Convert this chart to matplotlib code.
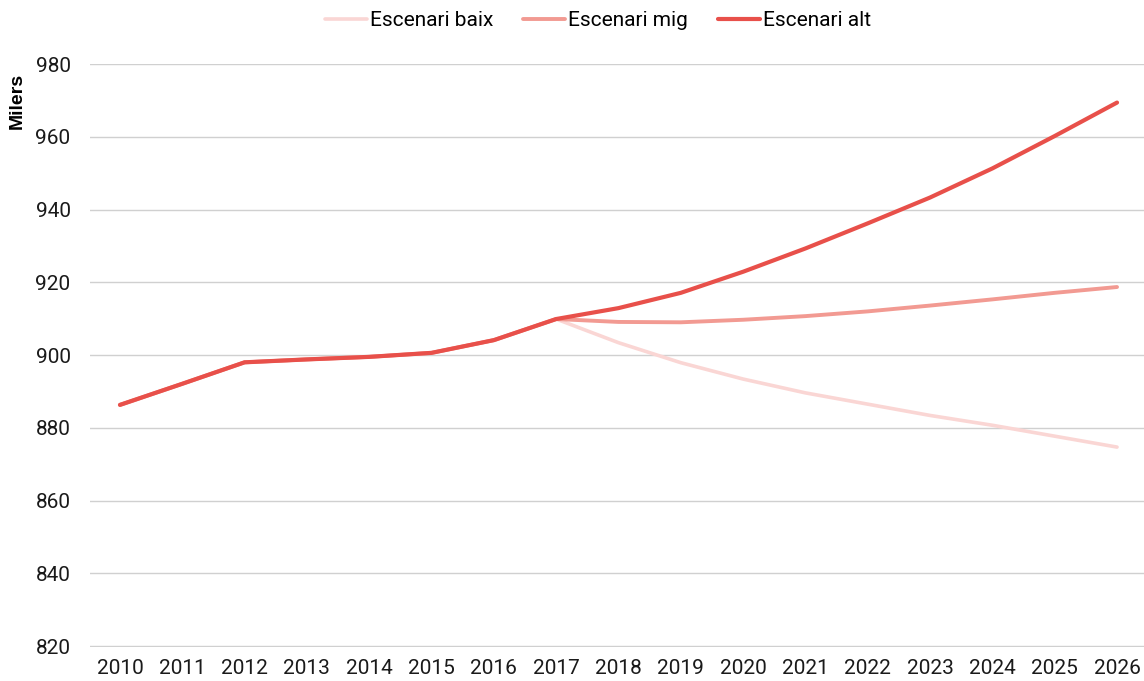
import numpy as np
import matplotlib.pyplot as plt

# dades (milers)
years = list(range(2010, 2027))
escenari_baix = [886.3, 892.1, 898.0, 898.8, 899.5, 900.6, 904.1, 909.9,
                 903.4, 897.9, 893.4, 889.6, 886.5, 883.4, 880.7, 877.7, 874.7]
escenari_mig = [886.3, 892.1, 898.0, 898.8, 899.5, 900.6, 904.1, 909.9,
                909.1, 909.0, 909.7, 910.7, 912.0, 913.6, 915.3, 917.1, 918.7]
escenari_alt = [886.3, 892.1, 898.0, 898.8, 899.5, 900.6, 904.1, 909.9,
                912.9, 917.1, 922.9, 929.3, 936.2, 943.3, 951.3, 960.2, 969.4]

col_baix = "#FAD6D4"
col_mig = "#F29A92"
col_alt = "#E8504A"

plt.rcParams['font.family'] = ['Roboto', 'DejaVu Sans']

fig = plt.figure(figsize=(11.44, 6.81), dpi=100)
ax = fig.add_axes([90/1144, 1 - 647/681, 1 - 90/1144, (647 - 64)/681])

ax.plot(years, escenari_baix, color=col_baix, lw=2.6, label="Escenari baix",
        solid_capstyle='round', zorder=3)
ax.plot(years, escenari_mig, color=col_mig, lw=2.8, label="Escenari mig",
        solid_capstyle='round', zorder=4)
ax.plot(years, escenari_alt, color=col_alt, lw=3.0, label="Escenari alt",
        solid_capstyle='round', zorder=5)

ax.set_xlim(2010 - 30/62.375, 2026 + 27/62.375)
ax.set_ylim(819.75, 980)
ax.set_xticks(years)
ax.set_xticklabels([str(y) for y in years])
ax.set_yticks(np.arange(820, 981, 20))
ax.grid(axis='y', color='#d0d0d0', lw=1.0)
ax.set_axisbelow(True)
for s in ax.spines.values():
    s.set_visible(False)
ax.tick_params(length=0, labelsize=15, colors='#1a1a1a', pad=9)
ax.tick_params(axis='y', pad=14)

fig.text(17/1144, 1 - 101/681, "Milers", rotation=90, ha='center', va='center',
         fontsize=14, fontweight='bold', family=['Liberation Sans', 'DejaVu Sans'])

fig.legend(loc='center', bbox_to_anchor=(598/1144, 1 - 21/681), ncol=3,
           frameon=False, fontsize=15, handlelength=2.0, handletextpad=0.15,
           columnspacing=1.45)

fig.savefig("out.png", dpi=100)
